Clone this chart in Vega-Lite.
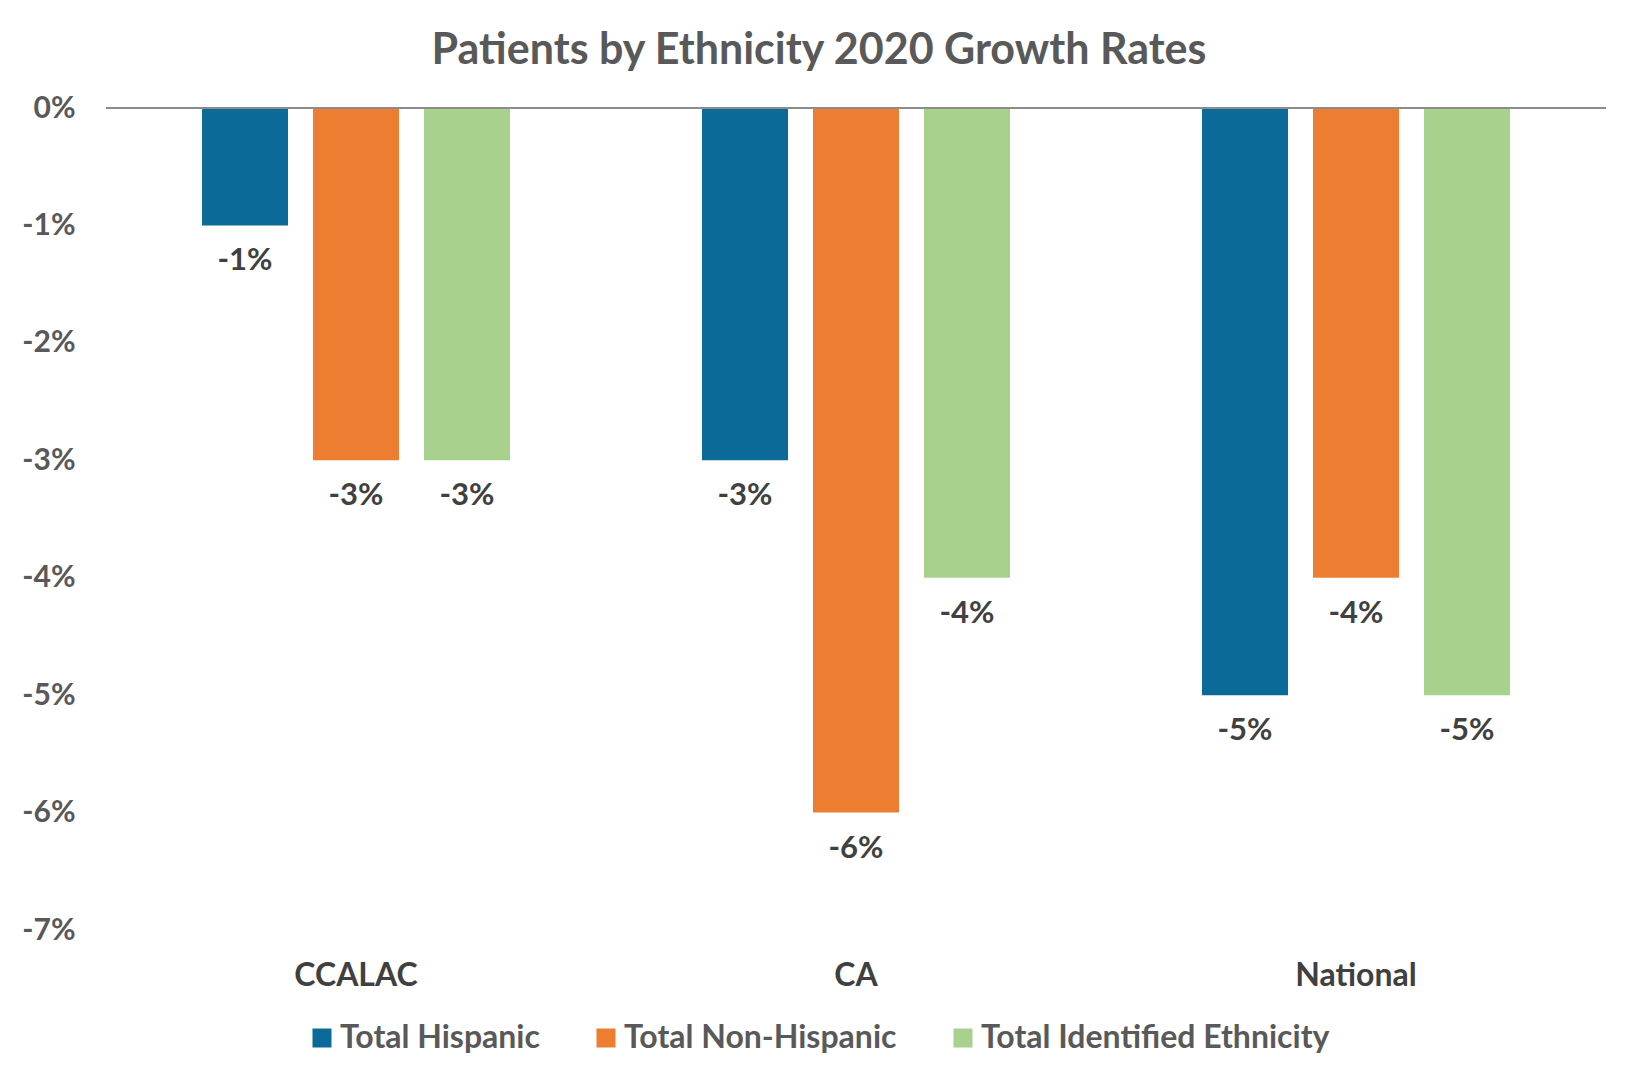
{
  "$schema": "https://vega.github.io/schema/vega-lite/v6.json",
  "width": 1500,
  "height": 822,
  "autosize": {"type": "none"},
  "padding": {"left": 106, "top": 108, "right": 27, "bottom": 148},
  "background": "white",
  "config": {
    "locale": {"number": {"decimal": ".", "thousands": ",", "grouping": [3], "currency": ["$", ""], "minus": "-"}},
    "font": "Lato",
    "view": {"stroke": null}
  },
  "title": {
    "text": "Patients by Ethnicity 2020 Growth Rates",
    "fontSize": 43,
    "font": "Lato",
    "fontWeight": "bold",
    "color": "#595959",
    "offset": 20,
    "dx": -37
  },
  "data": {
    "values": [
      {"group": "CCALAC", "series": "Total Hispanic", "value": -0.01},
      {"group": "CCALAC", "series": "Total Non-Hispanic", "value": -0.03},
      {"group": "CCALAC", "series": "Total Identified Ethnicity", "value": -0.03},
      {"group": "CA", "series": "Total Hispanic", "value": -0.03},
      {"group": "CA", "series": "Total Non-Hispanic", "value": -0.06},
      {"group": "CA", "series": "Total Identified Ethnicity", "value": -0.04},
      {"group": "National", "series": "Total Hispanic", "value": -0.05},
      {"group": "National", "series": "Total Non-Hispanic", "value": -0.04},
      {"group": "National", "series": "Total Identified Ethnicity", "value": -0.05}
    ]
  },
  "layer": [
    {
      "mark": {"type": "bar"},
      "encoding": {
        "x": {
          "field": "group", "type": "nominal",
          "scale": {"domain": ["CCALAC", "CA", "National"], "paddingInner": 0.384, "paddingOuter": 0.192},
          "axis": {"title": null, "labelAngle": 0, "labelFontSize": 32, "labelFontWeight": "bold", "labelColor": "#404040", "ticks": false, "domain": false, "labelPadding": 30, "labelFont": "Lato"}
        },
        "xOffset": {
          "field": "series", "type": "nominal",
          "scale": {"domain": ["Total Hispanic", "Total Non-Hispanic", "Total Identified Ethnicity"], "paddingInner": 0.225, "paddingOuter": 0}
        },
        "y": {
          "field": "value", "type": "quantitative",
          "scale": {"domain": [-0.07, 0], "nice": false, "zero": false},
          "axis": {"title": null, "values": [0, -0.01, -0.02, -0.03, -0.04, -0.05, -0.06, -0.07], "format": ".0%", "labelFontSize": 30, "labelFontWeight": "bold", "labelColor": "#595959", "domain": false, "ticks": false, "grid": false, "labelPadding": 31, "labelFont": "Lato"}
        },
        "color": {
          "field": "series", "type": "nominal",
          "scale": {"domain": ["Total Hispanic", "Total Non-Hispanic", "Total Identified Ethnicity"], "range": ["#0B6A97", "#ED7D31", "#A9D18E"]},
          "legend": {"title": null, "orient": "none", "legendX": 200, "legendY": 914, "direction": "horizontal", "symbolType": "square", "symbolSize": 361, "symbolStrokeWidth": 0, "labelFontSize": 32, "labelFontWeight": "bold", "labelColor": "#595959", "labelFont": "Lato", "columnPadding": 50, "labelOffset": 2, "labelLimit": 600}
        }
      }
    },
    {
      "data": {"values": [{"zero": 0}]},
      "mark": {"type": "rule", "color": "#8C8C8C", "strokeWidth": 2},
      "encoding": {"y": {"field": "zero", "type": "quantitative"}}
    },
    {
      "mark": {"type": "text", "baseline": "middle", "dy": 36, "fontSize": 31, "fontWeight": "bold", "color": "#404040", "font": "Lato"},
      "encoding": {
        "x": {"field": "group", "type": "nominal"},
        "xOffset": {"field": "series", "type": "nominal"},
        "y": {"field": "value", "type": "quantitative"},
        "text": {"field": "value", "type": "quantitative", "format": ".0%"}
      }
    }
  ]
}
